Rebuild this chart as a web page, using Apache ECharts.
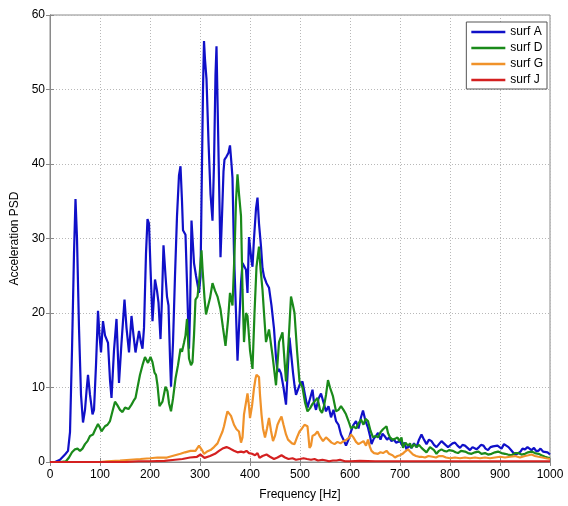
<!DOCTYPE html>
<html>
<head>
<meta charset="utf-8">
<script src="https://cdn.jsdelivr.net/npm/echarts@6/dist/echarts.min.js"></script>
<style>html,body{margin:0;padding:0;background:#fff}#c{width:568px;height:506px}</style>
</head>
<body>
<div id="c"></div>
<script>
// Frequency [Hz] / value pairs
const freqA = [0,10,20,30,36,40,44,48,51,54,58,62,66,70,73,76,80,85,88,92,96,99,102,106,110,116,120,123,128,133,138,143,149,153,158,163,167,171,178,182,185,188,192,195,198,201,205,210,214,217,221,224,227,231,234,237,240,242,246,250,254,258,261,264,266,271,274,278,280,283,286,288,292,298,301,303,306,308,310,313,317,321,325,328,331,333,335,338,341,344,347,349,353,357,360,363,365,368,372,375,378,382,385,388,392,395,398,400,403,405,408,412,415,418,422,425,428,433,438,443,448,452,455,458,462,467,472,476,479,483,486,489,492,495,500,505,510,515,520,525,528,532,537,542,546,552,557,562,567,572,577,582,587,592,597,602,607,612,617,622,626,631,636,640,643,648,652,656,661,665,669,674,678,683,688,692,696,700,705,709,713,718,723,728,733,738,743,748,753,758,763,768,773,778,783,786,791,796,800,805,810,815,820,825,830,835,840,845,849,853,858,862,867,871,876,881,886,890,895,899,903,908,912,917,922,927,932,936,941,945,950,955,959,963,968,972,977,981,986,990,995,1000];
const surfA = [0,0,0.3,1.0,1.5,4,15,28,35.3,30,18,9,5.3,7,9.5,11.7,9,6.4,7,13,20.3,17,14.7,18.9,17,16,11,8.6,15,19.2,10.6,16,21.8,18,14.7,19.6,17,14.7,17.6,16,15.2,18,28,32.6,32,26,18.9,24.5,23,21.4,16.5,22,29.1,25,22.2,21,14,10.1,16,25,33,38.5,39.7,35,31.1,30.5,24,15.2,20,32.4,29,26.7,25,22.7,24.9,35,50,56.5,54,51.4,43,36,32.4,40,52,55.8,48.7,38,27.5,33,39,40.6,41,41.5,42.5,40,38.1,28,20,13.6,18,24,26.7,26.7,25.8,22.7,30.2,30.2,27,26.2,30,34,35.5,32,28.9,26,24.9,24,23.4,21,17.9,14,12.1,12.5,11.9,10,7.7,13,16.7,14,12,10.3,9,9,10.5,10.8,9,7.3,8.5,9.7,8,7.0,8.5,9.2,9.2,6.8,7.5,6,7,5.5,5,3.7,3,2.2,3,4.1,5,5.5,4.5,6,6.9,5.5,4.6,3.5,2.4,3.2,3.5,3.9,3,3.8,3.5,3.0,3.3,2.8,3.0,2.6,2.4,2.8,2.2,2.6,1.7,2.2,1.9,2.5,2.0,3.0,3.7,3.0,2.4,3.0,2.8,2.3,2.0,2.4,2.8,2.6,2.3,2.0,2.2,2.5,2.6,2.2,1.9,2.3,2.2,1.9,1.6,2.0,1.8,1.7,2.0,2.3,2.2,1.8,1.6,2.0,2.1,1.9,2.2,2.0,1.8,2.4,2.2,2.0,1.6,1.2,1.0,1.0,1.4,1.8,1.7,2.0,1.8,1.6,1.9,1.5,1.5,1.8,1.4,1.2,1.3,1.0];

const freqD = [0,20,32,38,44,50,55,60,65,70,75,80,86,90,96,100,103,110,115,120,125,130,135,140,145,150,157,163,167,171,175,180,185,190,196,201,205,209,212,215,219,225,231,235,238,242,246,251,256,261,264,268,271,274,278,282,285,288,291,295,298,303,305,309,312,315,320,325,330,335,341,346,351,356,360,365,369,372,375,378,382,385,388,392,395,400,405,409,413,418,421,425,428,432,438,445,452,458,465,472,477,482,486,489,494,499,505,510,515,520,525,530,535,540,544,548,552,556,560,566,572,577,582,587,592,597,602,607,612,617,622,627,631,636,641,646,651,656,661,666,670,673,676,680,685,690,695,699,703,706,711,716,720,723,728,733,738,743,748,753,756,760,763,768,773,778,783,788,793,798,806,811,816,822,830,836,843,850,857,863,870,876,883,890,896,903,910,916,923,930,936,943,950,956,963,970,977,983,990,995,1000];
const surfD = [0,0,0.1,0.6,1.3,1.7,1.8,1.5,1.8,2.4,2.8,3.5,3.7,4.3,5.1,4.6,4.1,4.8,5.0,5.5,6.8,8.1,7.6,7.0,6.7,7.3,7.1,7.7,8.2,8.6,10,11.7,13,14.1,13.3,14.1,13.4,12,11.7,10.3,7.5,8.1,10.1,9.5,7.9,6.8,8.5,11.2,13,15.2,14.8,16,17,19.2,13.9,13,13.4,17,21.8,22.2,24,28.4,26,22,19.8,19.6,22,24,23,22.2,20.5,18,15.6,19,22.7,21,28,35,38.6,36,33,23.1,16.1,20,19.6,15,12.5,20,26.2,28.9,26,23.1,20,16.1,17.8,14.3,10.3,16.1,17.4,10.8,16,22.2,21,20,15,10.8,10,8,6.8,7.2,7.8,8.2,8.6,7,6.6,7.5,9,11,10,8.8,6.8,7,7.5,7,6.4,5.5,4.5,4.8,4.5,5.2,5.7,5,5.8,5.5,4.2,3.3,3.5,3.3,4,4.4,4.6,4.8,3.9,3.3,3.0,3.1,3.3,2.8,3.3,1.9,2.6,2.2,2.5,1.9,2.4,2.0,2.3,1.9,1.6,1.3,1.5,2.0,2.2,1.6,1.1,1.5,1.7,1.5,1.4,1.6,1.5,1.3,1.2,1.5,1.4,1.2,1.1,1.3,1.4,1.1,1.2,1.0,1.1,1.3,1.4,1.2,1.1,1.0,0.9,1.2,1.2,1.0,1.1,1.3,1.4,1.2,1.1,0.9,0.7,0.6,0.5];

const freqG = [0,100,114,140,160,181,200,215,234,250,261,270,281,291,298,304,308,314,321,328,335,340,345,348,352,355,358,362,368,373,378,382,385,388,392,395,398,400,404,408,411,413,418,420,423,426,430,434,438,442,446,450,455,459,463,467,472,476,479,484,489,494,499,504,509,515,519,522,525,530,535,540,546,552,557,563,569,575,581,587,593,599,602,607,612,617,622,627,632,636,640,643,648,652,656,661,666,673,678,685,690,695,700,705,710,716,720,726,732,738,743,750,757,765,772,778,785,792,800,810,820,830,840,850,860,870,880,890,900,910,920,930,940,950,957,963,970,977,985,992,1000];
const surfG = [0,0,0.1,0.2,0.3,0.4,0.5,0.6,0.6,0.9,1.1,1.3,1.5,1.5,2.2,1.6,1.1,1.4,1.6,2.0,2.5,3.3,4.1,4.8,6.0,6.8,7.0,6.2,5.0,4.4,4.1,2.6,3.3,6.4,8.0,9.2,7.5,5.9,7.5,9.9,11.2,11.7,11.4,9,6.4,4.5,3.3,4.5,5.9,4.2,2.8,3.5,5.0,5.6,6.1,5,3.7,3.0,2.8,2.5,2.4,3.3,4.1,4.5,5.0,4.8,1.9,2.2,3.5,3.7,4.1,3.4,2.8,3.3,3.0,2.6,2.4,2.7,2.5,2.8,3.0,3.3,3.7,3.3,2.7,2.4,2.6,2.8,2.2,3.0,2.0,1.5,1.2,1.0,1.1,1.3,1.2,1.5,1.1,0.9,0.6,0.8,0.9,1.1,1.4,1.7,1.4,1.0,0.8,0.7,0.7,0.6,0.8,0.7,0.6,0.8,0.8,0.6,0.5,0.6,0.5,0.6,0.5,0.6,0.5,0.6,0.5,0.6,0.7,0.6,0.7,0.8,0.6,0.8,0.9,1.0,0.8,0.7,0.6,0.5,0.4];

const freqJ = [0,150,177,200,229,250,265,280,294,301,309,320,330,338,345,353,360,368,375,382,388,393,398,404,410,415,419,425,433,440,448,455,463,470,477,485,492,500,507,514,522,529,536,545,552,558,566,573,580,590,600,620,650,700,750,800,850,900,950,1000];
const surfJ = [0,0,0.1,0.1,0.15,0.3,0.4,0.6,0.7,1.0,0.55,0.8,1.1,1.5,1.8,2.0,1.8,1.5,1.3,1.4,1.3,1.5,1.2,1.1,0.9,1.2,0.55,0.8,1.0,0.7,0.4,0.6,0.9,0.6,0.4,0.5,0.3,0.4,0.5,0.4,0.3,0.4,0.2,0.3,0.2,0.1,0.2,0.2,0.3,0.1,0.1,0.15,0.1,0.1,0.1,0.1,0.1,0.1,0.1,0.1];

const seriesNames = ['surf A','surf D','surf G','surf J'];
const seriesColors = ['#1010c8','#1a8a1a','#f0922a','#d42020'];
const xTicks = [0,100,200,300,400,500,600,700,800,900,1000];
const yTicks = [0,10,20,30,40,50,60];

function zip(xs, ys){ return xs.map((x,i)=>[x, ys[i]]); }
const allData = [zip(freqA,surfA), zip(freqD,surfD), zip(freqG,surfG), zip(freqJ,surfJ)];

const font = 'Liberation Sans, Arial, sans-serif';
const chart = echarts.init(document.getElementById('c'), null, {renderer:'canvas'});
const gridLine = {show:true, lineStyle:{color:'#b8b8b8', type:[1,2], width:1}};
const plain = v => String(v);
chart.setOption({
  animation:false,
  backgroundColor:'#fff',
  grid:{left:50, right:18, top:15, bottom:38, show:true, borderColor:'#8a8a8a', borderWidth:1, backgroundColor:'transparent'},
  legend:{
    data:seriesNames, orient:'vertical', right:21, top:22,
    icon:'rect', itemWidth:34, itemHeight:2.5, itemGap:4,
    backgroundColor:'#fff', borderColor:'#555', borderWidth:1, borderRadius:0,
    padding:[4,4,3,5],
    textStyle:{fontFamily:font, fontSize:12, color:'#000'}
  },
  xAxis:[{
    type:'value', min:xTicks[0], max:xTicks[xTicks.length-1], interval:100,
    name:'Frequency [Hz]', nameLocation:'middle', nameGap:27,
    nameTextStyle:{fontFamily:font, fontSize:12, color:'#000'},
    axisLine:{show:true, lineStyle:{color:'#8a8a8a'}},
    axisTick:{show:true, inside:true, length:4, lineStyle:{color:'#8a8a8a'}},
    axisLabel:{fontFamily:font, fontSize:12, color:'#000', margin:7, formatter:plain},
    splitLine:gridLine
  },{
    type:'value', position:'top', min:0, max:1000, interval:100,
    axisLine:{show:true, lineStyle:{color:'#8a8a8a'}},
    axisTick:{show:true, inside:true, length:4, lineStyle:{color:'#8a8a8a'}},
    axisLabel:{show:false}, splitLine:{show:false}
  }],
  yAxis:[{
    type:'value', min:yTicks[0], max:yTicks[yTicks.length-1], interval:10,
    name:'Acceleration PSD', nameLocation:'middle', nameGap:22,
    nameTextStyle:{fontFamily:font, fontSize:12, color:'#000'},
    axisLine:{show:true, lineStyle:{color:'#8a8a8a'}},
    axisTick:{show:true, inside:true, length:4, lineStyle:{color:'#8a8a8a'}},
    axisLabel:{fontFamily:font, fontSize:12, color:'#000', margin:5, formatter:plain},
    splitLine:gridLine
  },{
    type:'value', position:'right', min:0, max:60, interval:10,
    axisLine:{show:true, lineStyle:{color:'#8a8a8a'}},
    axisTick:{show:true, inside:true, length:4, lineStyle:{color:'#8a8a8a'}},
    axisLabel:{show:false}, splitLine:{show:false}
  }],
  series: seriesNames.map((n,i)=>({
    name:n, type:'line', data:allData[i], showSymbol:false, symbol:'none',
    xAxisIndex:0, yAxisIndex:0,
    lineStyle:{color:seriesColors[i], width:2.2}, itemStyle:{color:seriesColors[i]},
    z:2+i
  }))
});
</script>
</body>
</html>
